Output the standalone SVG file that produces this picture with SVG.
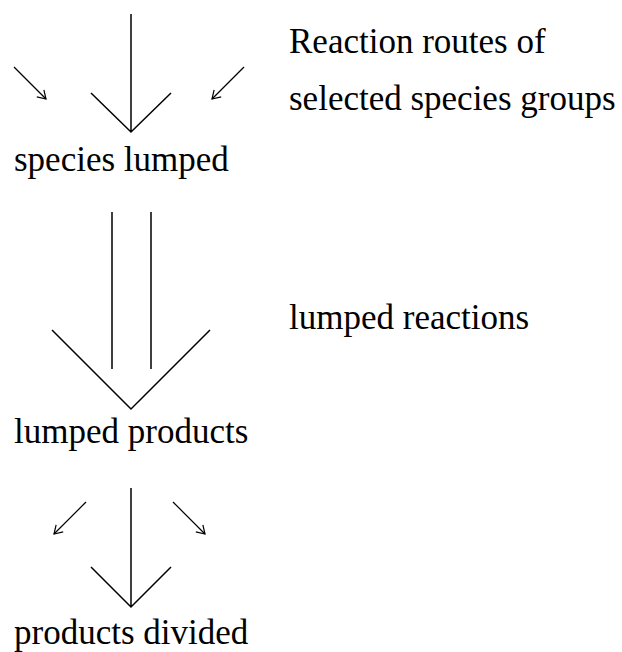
<svg xmlns="http://www.w3.org/2000/svg" width="622" height="652" viewBox="0 0 622 652">
<style>
.l{stroke:#000;stroke-width:1.5;fill:none}
.s{stroke:#000;stroke-width:1.2;fill:none}
</style>
<defs>
<marker id="ah" markerWidth="12" markerHeight="12" refX="10" refY="6" orient="auto" markerUnits="userSpaceOnUse">
<path d="M2,1 L10,6 L2,11" fill="none" stroke="#000" stroke-width="1.2"/>
</marker>
</defs>
<rect width="622" height="652" fill="#fff"/>
<g id="connectors">
<path class="l" d="M131,14 V132 M91,93 L131,132 L171,93"/>
<path class="s" d="M14,67 L46,99" marker-end="url(#ah)"/>
<path class="s" d="M244,67 L212,99" marker-end="url(#ah)"/>
<path class="l" d="M112,212 V369 M151,212 V369 M52,330 L131,409 L210,330"/>
<path class="l" d="M131,488 V607 M91,567 L131,607 L171,567"/>
<path class="s" d="M86,502 L54,534" marker-end="url(#ah)"/>
<path class="s" d="M173,502 L205,534" marker-end="url(#ah)"/>
</g>
<g id="species-lumped"><text x="14" y="171" font-family="'Liberation Serif', serif" font-size="35">species lumped</text></g>
<g id="lumped-products"><text x="14" y="443" font-family="'Liberation Serif', serif" font-size="35">lumped products</text></g>
<g id="products-divided"><text x="14" y="644" font-family="'Liberation Serif', serif" font-size="35">products divided</text></g>
<g id="label-routes"><text x="289" y="53" font-family="'Liberation Serif', serif" font-size="35">Reaction routes of</text><text x="289" y="110" font-family="'Liberation Serif', serif" font-size="35">selected species groups</text></g>
<g id="label-lumped"><text x="289" y="329" font-family="'Liberation Serif', serif" font-size="35">lumped reactions</text></g>
</svg>
